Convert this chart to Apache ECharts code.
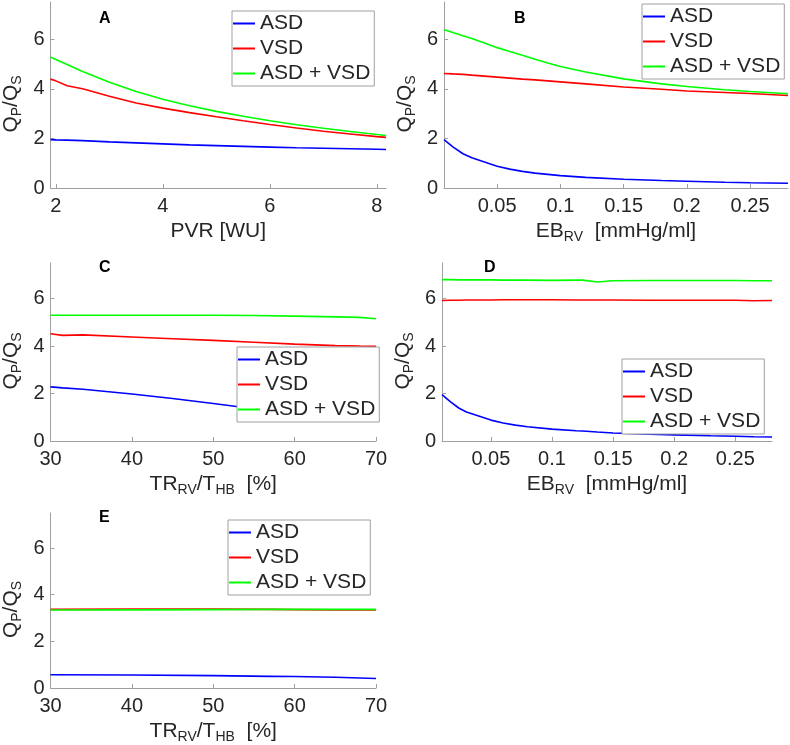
<!DOCTYPE html>
<html>
<head>
<meta charset="utf-8">
<script src="https://cdn.jsdelivr.net/npm/echarts@6/dist/echarts.min.js"></script>
<style>
html,body{margin:0;padding:0;background:#fff;}
#c{width:790px;height:745px;}
</style>
</head>
<body>
<div id="c"></div>
<script>
// ---- Data ----
const seriesNames = ['ASD', 'VSD', 'ASD + VSD'];
const panelLabels = ['A', 'B', 'C', 'D', 'E'];

// Panel A: PVR [WU]
const A_x   = [1.9, 2.0, 2.21, 2.5, 3.0, 3.5, 4.0, 4.5, 5.0, 5.5, 6.0, 6.5, 7.0, 7.5, 8.0, 8.17];
const A_asd = [1.95, 1.94, 1.93, 1.91, 1.86, 1.82, 1.78, 1.74, 1.71, 1.68, 1.65, 1.62, 1.60, 1.58, 1.56, 1.55];
const A_vsd = [4.39, 4.32, 4.12, 4.00, 3.70, 3.43, 3.22, 3.04, 2.87, 2.71, 2.56, 2.42, 2.29, 2.18, 2.07, 2.04];
const A_both= [5.28, 5.18, 4.98, 4.70, 4.26, 3.89, 3.58, 3.32, 3.09, 2.89, 2.71, 2.55, 2.41, 2.28, 2.16, 2.12];

// Panel B: EB_RV [mmHg/ml]
const B_x   = [0.008, 0.015, 0.023, 0.03, 0.04, 0.05, 0.06, 0.07, 0.08, 0.09, 0.1, 0.12, 0.15, 0.18, 0.2, 0.23, 0.25, 0.28];
const B_asd = [1.95, 1.66, 1.38, 1.22, 1.05, 0.88, 0.76, 0.67, 0.60, 0.55, 0.50, 0.43, 0.35, 0.30, 0.27, 0.23, 0.21, 0.19];
const B_vsd = [4.62, 4.60, 4.58, 4.55, 4.51, 4.47, 4.43, 4.39, 4.36, 4.32, 4.28, 4.20, 4.07, 3.98, 3.91, 3.85, 3.81, 3.73];
const B_both= [6.38, 6.27, 6.14, 6.03, 5.85, 5.66, 5.50, 5.35, 5.19, 5.04, 4.90, 4.68, 4.40, 4.20, 4.09, 3.96, 3.89, 3.80];

// Panel C: TR_RV/T_HB [%]
const C_x   = [30, 31.5, 34, 40, 45, 50, 55, 60, 65, 68, 70];
const C_asd = [2.28, 2.24, 2.18, 1.98, 1.79, 1.58, 1.36, 1.16, 0.99, 0.90, 0.84];
const C_vsd = [4.52, 4.45, 4.47, 4.38, 4.31, 4.24, 4.16, 4.08, 4.02, 4.00, 3.99];
const C_both= [5.30, 5.30, 5.30, 5.30, 5.30, 5.30, 5.29, 5.26, 5.23, 5.21, 5.15];

// Panel D: EB_RV [mmHg/ml]
const D_x   = [0.01, 0.017, 0.024, 0.03, 0.04, 0.05, 0.06, 0.07, 0.08, 0.1, 0.12, 0.125, 0.137, 0.15, 0.18, 0.2, 0.23, 0.25, 0.265, 0.28];
const D_asd = [1.95, 1.65, 1.38, 1.22, 1.05, 0.88, 0.76, 0.67, 0.60, 0.50, 0.43, 0.42, 0.38, 0.34, 0.29, 0.26, 0.22, 0.20, 0.18, 0.17];
const D_vsd = [5.92, 5.93, 5.93, 5.94, 5.94, 5.94, 5.95, 5.95, 5.95, 5.95, 5.94, 5.94, 5.94, 5.94, 5.93, 5.93, 5.93, 5.93, 5.91, 5.92];
const D_both= [6.80, 6.80, 6.79, 6.79, 6.79, 6.79, 6.78, 6.78, 6.78, 6.77, 6.78, 6.78, 6.70, 6.75, 6.76, 6.76, 6.76, 6.76, 6.75, 6.75];

// Panel E: TR_RV/T_HB [%]
const E_x   = [30, 40, 50, 57, 60, 65, 70];
const E_asd = [0.57, 0.56, 0.53, 0.50, 0.49, 0.46, 0.41];
const E_vsd = [3.37, 3.38, 3.38, 3.37, 3.36, 3.35, 3.35];
const E_both= [3.34, 3.35, 3.36, 3.37, 3.37, 3.37, 3.37];

// Tick labels
const yTicks = [0, 2, 4, 6];
const A_ticks = [2, 4, 6, 8];
const B_ticks = [0.05, 0.1, 0.15, 0.2, 0.25];
const C_ticks = [30, 40, 50, 60, 70];

// ---- Layout / style ----
const colors = ['#0000ff', '#ff0000', '#00ff00'];
const axisGray = '#a0a0a0';
const textCol = '#262626';
const FONT = '"Liberation Sans", Arial, Helvetica, sans-serif';

const panels = [
  {x: A_x, ys: [A_asd, A_vsd, A_both], xmin: 1.9, xmax: 8.17, ticks: A_ticks,
   grid: {left: 49, top: 2, width: 337, height: 186},
   xname: '{n|PVR [WU]}', legend: {left: 232, top: 11}, label: {left: 99, top: 11}},
  {x: B_x, ys: [B_asd, B_vsd, B_both], xmin: 0.008, xmax: 0.28, ticks: B_ticks,
   grid: {left: 444, top: 2, width: 344, height: 186},
   xname: '{n|EB}{s|RV}{n|  [mmHg/ml]}', legend: {left: 642, top: 4}, label: {left: 514, top: 11}},
  {x: C_x, ys: [C_asd, C_vsd, C_both], xmin: 30, xmax: 70, ticks: C_ticks,
   grid: {left: 49, top: 263, width: 327, height: 178},
   xname: '{n|TR}{s|RV}{n|/T}{s|HB}{n|  [%]}', legend: {left: 237, top: 347}, label: {left: 99, top: 260}},
  {x: D_x, ys: [D_asd, D_vsd, D_both], xmin: 0.01, xmax: 0.28, ticks: B_ticks,
   grid: {left: 442, top: 263, width: 330, height: 178},
   xname: '{n|EB}{s|RV}{n|  [mmHg/ml]}', legend: {left: 622, top: 359}, label: {left: 484, top: 260}},
  {x: E_x, ys: [E_asd, E_vsd, E_both], xmin: 30, xmax: 70, ticks: C_ticks,
   grid: {left: 49, top: 513, width: 327, height: 178},
   xname: '{n|TR}{s|RV}{n|/T}{s|HB}{n|  [%]}', legend: {left: 228, top: 520}, label: {left: 99, top: 510}}
];

const rich = {
  n: {fontSize: 21, fontFamily: FONT, color: textCol, lineHeight: 26},
  s: {fontSize: 14, fontFamily: FONT, color: textCol, lineHeight: 14, verticalAlign: 'bottom'}
};

const grids = [], xAxes = [], yAxes = [], series = [], legends = [], titles = [];
panels.forEach((p, i) => {
  grids.push(Object.assign({containLabel: false}, p.grid));
  xAxes.push({
    type: 'value', gridIndex: i, min: p.xmin, max: p.xmax,
    name: p.xname, nameLocation: 'middle', nameGap: 30,
    nameTextStyle: {rich: rich},
    axisLine: {show: true, onZero: false, lineStyle: {color: axisGray, width: 1}},
    axisTick: {show: true, inside: true, length: 4, lineStyle: {color: axisGray}, customValues: p.ticks},
    axisLabel: {show: true, color: textCol, fontSize: 20, fontFamily: FONT, margin: 8, customValues: p.ticks},
    splitLine: {show: false}
  });
  yAxes.push({
    type: 'value', gridIndex: i, min: 0, max: 7.5,
    name: '{n|Q}{s|P}{n|/Q}{s|S}', nameLocation: 'middle', nameGap: 26,
    nameTextStyle: {rich: rich, padding: [0, 18, 0, 0]},
    axisLine: {show: true, onZero: false, lineStyle: {color: axisGray, width: 1}},
    axisTick: {show: true, inside: true, length: 4, lineStyle: {color: axisGray}, customValues: yTicks},
    axisLabel: {show: true, color: textCol, fontSize: 20, fontFamily: FONT, margin: 6, customValues: yTicks},
    splitLine: {show: false}
  });
  p.ys.forEach((ys, k) => {
    series.push({
      type: 'line', name: seriesNames[k], xAxisIndex: i, yAxisIndex: i,
      data: p.x.map((xv, j) => [xv, ys[j]]),
      symbol: 'none', smooth: false,
      lineStyle: {color: colors[k], width: 1.6},
      itemStyle: {color: colors[k]},
      z: 2 + k
    });
  });
  legends.push({
    left: p.legend.left, top: p.legend.top, orient: 'vertical',
    data: seriesNames.map(n => ({name: n, icon: 'rect'})), selectedMode: false,
    backgroundColor: '#ffffff', borderColor: axisGray, borderWidth: 1,
    padding: [2, 4, 2, 1], itemGap: 4, itemWidth: 22, itemHeight: 2,
    textStyle: {fontSize: 21, fontFamily: FONT, color: textCol, lineHeight: 21}
  });
  titles.push({
    text: panelLabels[i], left: p.label.left, top: p.label.top, padding: 0,
    textStyle: {fontSize: 16, fontWeight: 'bold', fontFamily: FONT, color: '#000'}
  });
});

const chart = echarts.init(document.getElementById('c'), null, {renderer: 'canvas'});
chart.setOption({
  animation: false,
  backgroundColor: '#ffffff',
  title: titles,
  grid: grids,
  xAxis: xAxes,
  yAxis: yAxes,
  legend: legends,
  series: series
});
</script>
</body>
</html>
